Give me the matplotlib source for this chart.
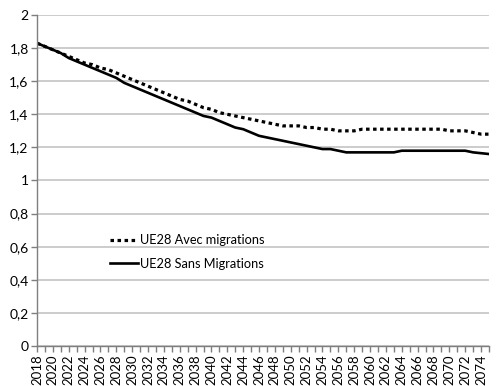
import matplotlib
matplotlib.use("Agg")
import matplotlib.pyplot as plt

# Indicateur conjoncturel de fécondité, UE28
annees = list(range(2018, 2076))

avec_migrations = [
    1.83, 1.81, 1.79, 1.77, 1.75, 1.73, 1.71, 1.70, 1.68, 1.67,
    1.65, 1.63, 1.61, 1.59, 1.57, 1.55, 1.53, 1.51, 1.49, 1.48,
    1.46, 1.44, 1.43, 1.41, 1.40, 1.39, 1.38, 1.37, 1.36, 1.35,
    1.34, 1.33, 1.33, 1.33, 1.32, 1.32, 1.31, 1.31, 1.30, 1.30,
    1.30, 1.31, 1.31, 1.31, 1.31, 1.31, 1.31, 1.31, 1.31, 1.31,
    1.31, 1.31, 1.30, 1.30, 1.30, 1.29, 1.28, 1.28,
]

sans_migrations = [
    1.83, 1.81, 1.79, 1.77, 1.74, 1.72, 1.70, 1.68, 1.66, 1.64,
    1.62, 1.59, 1.57, 1.55, 1.53, 1.51, 1.49, 1.47, 1.45, 1.43,
    1.41, 1.39, 1.38, 1.36, 1.34, 1.32, 1.31, 1.29, 1.27, 1.26,
    1.25, 1.24, 1.23, 1.22, 1.21, 1.20, 1.19, 1.19, 1.18, 1.17,
    1.17, 1.17, 1.17, 1.17, 1.17, 1.17, 1.18, 1.18, 1.18, 1.18,
    1.18, 1.18, 1.18, 1.18, 1.18, 1.17, 1.165, 1.16,
]

y_ticks = [0, 0.2, 0.4, 0.6, 0.8, 1.0, 1.2, 1.4, 1.6, 1.8, 2.0]
y_tick_labels = ["0", "0,2", "0,4", "0,6", "0,8", "1", "1,2", "1,4", "1,6", "1,8", "2"]

plt.rcParams["font.family"] = ["Lato", "DejaVu Sans"]

fig = plt.figure(figsize=(5.02, 3.86), dpi=100)
ax = fig.add_axes([37 / 502, 1 - 346 / 386, 452 / 502, 331 / 386])

x = list(range(len(annees)))
ax.plot(x, avec_migrations, color="black", linewidth=2.3,
        linestyle=(0, (1.1, 1.1)), label="UE28 Avec migrations")
ax.plot(x, sans_migrations, color="black", linewidth=1.9,
        label="UE28 Sans Migrations")

ax.set_xlim(0, len(annees) - 1)
ax.set_ylim(0, 2)

ax.set_yticks(y_ticks)
ax.set_yticklabels(y_tick_labels, fontsize=10)
ax.set_xticks(x)
ax.set_xticklabels([str(a) if (a - annees[0]) % 2 == 0 else "" for a in annees],
                   rotation=90, fontsize=9.5)

ax.grid(axis="y", color="#c4c4c4", linewidth=1.2)
ax.set_axisbelow(True)
for s in ["top", "right"]:
    ax.spines[s].set_visible(False)
for s in ["left", "bottom"]:
    ax.spines[s].set_color("#7f7f7f")
    ax.spines[s].set_linewidth(1.0)
ax.tick_params(axis="both", color="#7f7f7f", length=4, width=1.0, pad=2)

ax.legend(loc="upper left", bbox_to_anchor=(110 / 502, 1 - 234 / 386),
          bbox_transform=fig.transFigure, frameon=False, fontsize=9.2,
          handlelength=2.2, handletextpad=0.15, labelspacing=0.9,
          borderpad=0, borderaxespad=0)

fig.savefig("out.png", dpi=100)
